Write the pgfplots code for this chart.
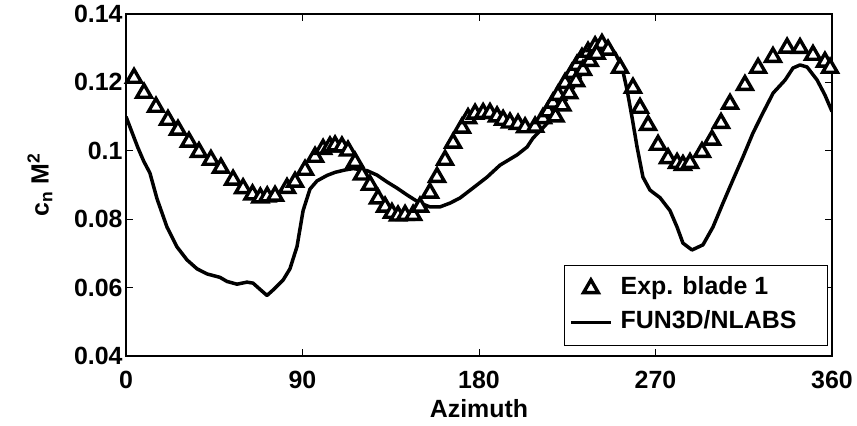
\documentclass[border=0pt]{standalone}
\usepackage{pgfplots}
\pgfplotsset{compat=1.18}
\usepackage{fontspec}
\setmainfont{Liberation Sans}
\pgfplotstableread{
x y
4.1 0.1213
9.2 0.1169
15.3 0.1128
21.4 0.1090
26.5 0.1061
32.1 0.1026
37.2 0.0996
43.3 0.0973
48.4 0.0950
54.6 0.0915
59.7 0.0890
64.5 0.0872
68.5 0.0863
72.0 0.0866
76.0 0.0868
82.1 0.0891
86.2 0.0909
91.3 0.0944
96.4 0.0982
100.5 0.1005
104.0 0.1012
106.6 0.1015
110.1 0.1012
113.2 0.1000
116.8 0.0967
120.3 0.0930
124.4 0.0900
128.5 0.0860
132.1 0.0836
135.6 0.0818
138.7 0.0810
142.3 0.0812
146.4 0.0812
149.9 0.0836
155.0 0.0877
158.6 0.0923
162.7 0.0973
166.8 0.1023
171.3 0.1067
174.4 0.1095
178.0 0.1108
182.1 0.1110
185.6 0.1110
189.2 0.1100
192.3 0.1090
195.8 0.1082
199.9 0.1078
203.5 0.1068
208.6 0.1070
212.6 0.1095
215.2 0.1115
217.7 0.1140
220.3 0.1163
223.9 0.1198
227.4 0.1227
230.0 0.1251
232.5 0.1271
235.6 0.1289
239.2 0.1305
242.7 0.1312
245.8 0.1295
251.9 0.1242
258.5 0.1184
262.1 0.1125
266.2 0.1075
271.3 0.1017
276.4 0.0978
281.0 0.0964
284.0 0.0958
287.6 0.0964
293.7 0.0996
298.8 0.1032
303.4 0.1081
308.0 0.1137
315.6 0.1192
322.3 0.1242
329.9 0.1274
337.1 0.1301
343.7 0.1300
350.3 0.1280
356.4 0.1260
359.0 0.1242
}\expdata
\pgfplotstableread{
x y
219.0 0.1100
222.5 0.1132
226.0 0.1168
229.5 0.1203
233.0 0.1236
236.5 0.1262
240.0 0.1283
}\expextra
\pgfplotstableread{
x y
0 0.1100
3 0.1055
6 0.1010
9 0.0970
12.2 0.0935
15.8 0.0860
20.9 0.0777
26.0 0.0719
31.1 0.0681
36.2 0.0655
41.3 0.0640
47.9 0.0630
51.5 0.0618
56.6 0.0610
61.7 0.0616
64.8 0.0613
68.3 0.0595
71.9 0.0577
75.0 0.0593
80.1 0.0622
83.6 0.0655
87.2 0.0720
90.3 0.0825
93.8 0.0888
97.4 0.0912
102.5 0.0928
106.6 0.0937
111.7 0.0944
115.8 0.0948
122.9 0.0942
128.0 0.0929
133.1 0.0909
138.2 0.0891
143.3 0.0871
147.4 0.0856
150.0 0.0847
155.0 0.0836
160.1 0.0836
165.2 0.0847
170.3 0.0862
176.9 0.0891
184.1 0.0923
190.7 0.0958
199.4 0.0988
204.5 0.1011
207.5 0.1037
212.6 0.1067
217.7 0.1099
222.8 0.1140
227.9 0.1184
233.0 0.1231
238.1 0.1271
242.7 0.1295
245.8 0.1304
249.4 0.1286
252.9 0.1245
255.5 0.1178
258.0 0.1099
260.6 0.1011
263.6 0.0923
267.2 0.0885
272.3 0.0863
277.4 0.0825
281.0 0.0777
284.0 0.0730
288.6 0.0710
294.2 0.0725
299.3 0.0777
304.4 0.0847
309.5 0.0915
314.6 0.0982
319.7 0.1052
324.8 0.1111
330.0 0.1169
336.1 0.1207
340.1 0.1242
343.7 0.1251
347.3 0.1245
352.4 0.1207
356.4 0.1163
360.0 0.1115
}\simdata
\begin{document}
\begin{tikzpicture}
\begin{axis}[
  scale only axis, width=706bp, height=342bp,
  xmin=0, xmax=360, ymin=0.04, ymax=0.14,
  xtick={0,90,180,270,360},
  ytick={0.04,0.06,0.08,0.1,0.12,0.14},
  yticklabels={0.04,0.06,0.08,0.1,0.12,0.14},
  tick align=inside, major tick length=7bp,
  axis line style={line width=1.2bp},
  every tick/.style={line width=1bp, black},
  tick label style={font=\fontsize{25}{29}\selectfont\bfseries},
  xticklabel style={yshift=-12bp},
  /pgf/number format/assume math mode=true,
  xlabel={Azimuth},
  ylabel={c\textsubscript{n} M\textsuperscript{2}},
  label style={font=\fontsize{25}{29}\selectfont\bfseries},
  xlabel style={at={(axis description cs:0.5,-0.155)}, anchor=center},
  ylabel style={at={(axis description cs:-0.122,0.5)}, anchor=center},
  legend image code/.code={\draw[mark repeat=2,mark phase=2,#1] plot coordinates {(0bp,0bp) (20bp,0bp) (40bp,0bp)};},
  legend style={at={(axis description cs:1,0)}, anchor=south east, xshift=-4bp, yshift=10bp,
    draw=black, line width=1.2bp, font=\fontsize{25}{29}\selectfont\bfseries,
    inner xsep=5bp, inner ysep=12bp, row sep=12bp,
    nodes={inner sep=0pt, text height=17bp, text depth=5bp},
    /tikz/every odd column/.append style={column sep=8bp}},
  legend cell align=left,
]
\addplot[only marks, mark=triangle*, mark size=8.5bp, draw=black, fill=white, line width=3.4bp] table {\expdata};
\addlegendentry{Exp. blade 1}
\addplot[black, line width=3.5bp, line join=round, no marks] table {\simdata};
\addlegendentry{FUN3D/NLABS\hspace*{26bp}}
\addplot[only marks, mark=triangle*, mark size=8.5bp, draw=black, fill=white, line width=3.4bp, forget plot] table {\expextra};
\coordinate (bl) at (rel axis cs:0,0);
\coordinate (tr) at (rel axis cs:1,1);
\end{axis}
\pgfresetboundingbox
\path[use as bounding box] ([shift={(-126bp,-70bp)}]bl) rectangle ([shift={(25bp,14bp)}]tr);
\end{tikzpicture}
\end{document}
